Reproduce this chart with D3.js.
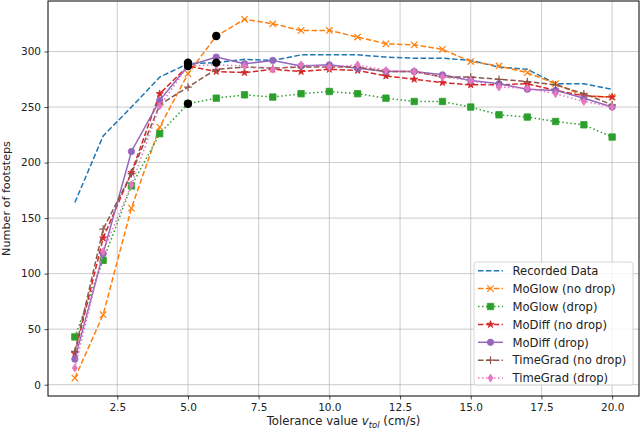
<!DOCTYPE html>
<html>
<head>
<meta charset="utf-8">
<script src="https://cdn.jsdelivr.net/npm/d3@7"></script>
<style>
  body { margin: 0; background: #fff; }
  text { font-family: "DejaVu Sans", sans-serif; }
</style>
</head>
<body>
<script>
const width = 640;
const height = 432;
const padLeft = 48, padRight = 639, padTop = 1, padBottom = 396;

// tolerance values (cm/s)
const tolerance = [1, 2, 3, 4, 5, 6, 7, 8, 9, 10, 11, 12, 13, 14, 15, 16, 17, 18, 19, 20];

const recorded      = [164, 224, 250, 277, 289, 290, 293, 292, 297, 297, 297, 295, 294, 294, 292, 286, 284, 271, 271, 266];
const moglowNoDrop  = [6, 63, 159, 232, 280, 314, 329, 325, 319, 319, 313, 307, 306, 302, 291, 287, 281, 271, 260, 259];
const moglowDrop    = [43, 112, 179, 226, 253, 258, 261, 259, 262, 264, 262, 258, 255, 255, 250, 243, 241, 237, 234, 223];
const modiffNoDrop  = [28, 132, 191, 262, 287, 282, 281, 284, 282, 284, 283, 278, 275, 272, 270, 270, 271, 265, 260, 259];
const modiffDrop    = [23, 118, 210, 256, 287, 295, 289, 292, 287, 288, 285, 282, 282, 279, 274, 271, 266, 265, 258, 250];
const timegradNoDrop = [30, 140, 190, 252, 268, 284, 286, 285, 286, 286, 286, 282, 282, 277, 277, 275, 273, 270, 262, 252];
const timegradDrop  = [15, 120, 180, 251, 287, 288, 287, 284, 288, 286, 288, 283, 282, 277, 274, 268, 267, 262, 255, 250];

// highlighted points
const highlightX = [5, 5, 5, 6, 6];
const highlightY = [290, 287, 253, 314, 290];

const xTicks = [2.5, 5.0, 7.5, 10.0, 12.5, 15.0, 17.5, 20.0];
const yTicks = [0, 50, 100, 150, 200, 250, 300];

const series = [
  { name: "Recorded Data",        values: recorded,       color: "#1f77b4", dash: "5.5,2.4", marker: null },
  { name: "MoGlow (no drop)",     values: moglowNoDrop,   color: "#ff7f0e", dash: "5.5,2.4", marker: "x" },
  { name: "MoGlow (drop)",        values: moglowDrop,     color: "#2ca02c", dash: "1.5,2.5", marker: "s" },
  { name: "MoDiff (no drop)",     values: modiffNoDrop,   color: "#d62728", dash: "5.5,2.4", marker: "*" },
  { name: "MoDiff (drop)",        values: modiffDrop,     color: "#9467bd", dash: null,      marker: "o" },
  { name: "TimeGrad (no drop)",   values: timegradNoDrop, color: "#8c564b", dash: "5.5,2.4", marker: "+" },
  { name: "TimeGrad (drop)",      values: timegradDrop,   color: "#e377c2", dash: "1.5,2.5", marker: "d" }
];

const x = d3.scaleLinear().domain([0.05, 20.95]).range([padLeft, padRight]);
const y = d3.scaleLinear().domain([-10.2, 345.5]).range([padBottom, padTop]);

const svg = d3.select("body").append("svg")
  .attr("width", width).attr("height", height);

// grid
svg.append("g").selectAll("line").data(xTicks).enter().append("line")
  .attr("x1", d => x(d)).attr("x2", d => x(d))
  .attr("y1", padTop).attr("y2", padBottom)
  .attr("stroke", "#b0b0b0").attr("stroke-width", 0.8).attr("opacity", 0.8);
svg.append("g").selectAll("line").data(yTicks).enter().append("line")
  .attr("x1", padLeft).attr("x2", padRight)
  .attr("y1", d => y(d)).attr("y2", d => y(d))
  .attr("stroke", "#b0b0b0").attr("stroke-width", 0.8).attr("opacity", 0.8);

// marker path builder
function markerPath(type, s) {
  if (type === "o") return d3.symbol(d3.symbolCircle, Math.PI * s * s)();
  if (type === "s") return d3.symbol(d3.symbolSquare, (2 * s) * (2 * s))();
  if (type === "*") return d3.symbol(d3.symbolStar, 16)();
  if (type === "x") return `M${-s},${-s}L${s},${s}M${-s},${s}L${s},${-s}`;
  if (type === "+") return `M${-s * 1.2},0L${s * 1.2},0M0,${-s * 1.2}L0,${s * 1.2}`;
  if (type === "d") return `M0,${-s * 1.25}L${s * 0.8},0L0,${s * 1.25}L${-s * 0.8},0Z`;
  return null;
}

function drawMarker(g, type, color) {
  const lineOnly = type === "x" || type === "+";
  g.append("path")
    .attr("d", markerPath(type, 3.2))
    .attr("fill", lineOnly ? "none" : color)
    .attr("stroke", color)
    .attr("stroke-width", lineOnly ? 1.2 : 0.8);
}

const line = d3.line().x((d, i) => x(tolerance[i])).y(d => y(d));

series.forEach(s => {
  svg.append("path")
    .datum(s.values)
    .attr("d", line)
    .attr("fill", "none")
    .attr("stroke", s.color)
    .attr("stroke-width", 1.5)
    .attr("stroke-dasharray", s.dash);
  if (s.marker) {
    s.values.forEach((v, i) => {
      const g = svg.append("g").attr("transform", `translate(${x(tolerance[i])},${y(v)})`);
      drawMarker(g, s.marker, s.color);
    });
  }
});

// black dots
svg.append("g").selectAll("circle").data(highlightX).enter().append("circle")
  .attr("cx", d => x(d))
  .attr("cy", (d, i) => y(highlightY[i]))
  .attr("r", 4.2)
  .attr("fill", "black");

// axes
const xAxis = d3.axisBottom(x).tickValues(xTicks).tickFormat(d3.format(".1f")).tickSize(3.5).tickPadding(4.5);
const yAxis = d3.axisLeft(y).tickValues(yTicks).tickSize(3.5).tickPadding(3.5);

const gx = svg.append("g").attr("transform", `translate(0,${padBottom})`).call(xAxis);
const gy = svg.append("g").attr("transform", `translate(${padLeft},0)`).call(yAxis);
[gx, gy].forEach(g => {
  g.select(".domain").remove();
  g.selectAll("text").attr("font-size", 10.5).attr("font-family", "DejaVu Sans").attr("fill", "#222");
  g.selectAll("line").attr("stroke", "#222").attr("stroke-width", 0.8);
});

// frame
svg.append("rect")
  .attr("x", padLeft).attr("y", padTop)
  .attr("width", padRight - padLeft).attr("height", padBottom - padTop)
  .attr("fill", "none").attr("stroke", "black").attr("stroke-width", 1);

// axis labels
const xl = svg.append("text")
  .attr("x", (padLeft + padRight) / 2).attr("y", 425)
  .attr("text-anchor", "middle").attr("font-size", 11.7).attr("fill", "#222");
xl.append("tspan").text("Tolerance value ");
xl.append("tspan").text("v").attr("font-style", "italic");
xl.append("tspan").text("tol").attr("font-style", "italic").attr("font-size", 8.5).attr("dy", 2.5);
xl.append("tspan").text(" (cm/s)").attr("dy", -2.5);

svg.append("text")
  .attr("transform", `translate(10,${(padTop + padBottom) / 2}) rotate(-90)`)
  .attr("text-anchor", "middle").attr("font-size", 11.2).attr("fill", "#222")
  .text("Number of footsteps");

// legend
const lg = svg.append("g").attr("transform", "translate(474,262)");
lg.append("rect")
  .attr("width", 159).attr("height", 123).attr("rx", 2.5)
  .attr("fill", "white").attr("fill-opacity", 0.8)
  .attr("stroke", "#cccccc").attr("stroke-width", 0.8);
series.forEach((s, i) => {
  const cy = 8.7 + i * 17.9;
  lg.append("line")
    .attr("x1", 4).attr("x2", 29).attr("y1", cy).attr("y2", cy)
    .attr("stroke", s.color).attr("stroke-width", 1.5)
    .attr("stroke-dasharray", s.dash);
  if (s.marker) {
    const g = lg.append("g").attr("transform", `translate(16.5,${cy})`);
    drawMarker(g, s.marker, s.color);
  }
  lg.append("text")
    .attr("x", 38.5).attr("y", cy + 4.2)
    .attr("font-size", 11.6).attr("fill", "#222")
    .text(s.name);
});
</script>
</body>
</html>
